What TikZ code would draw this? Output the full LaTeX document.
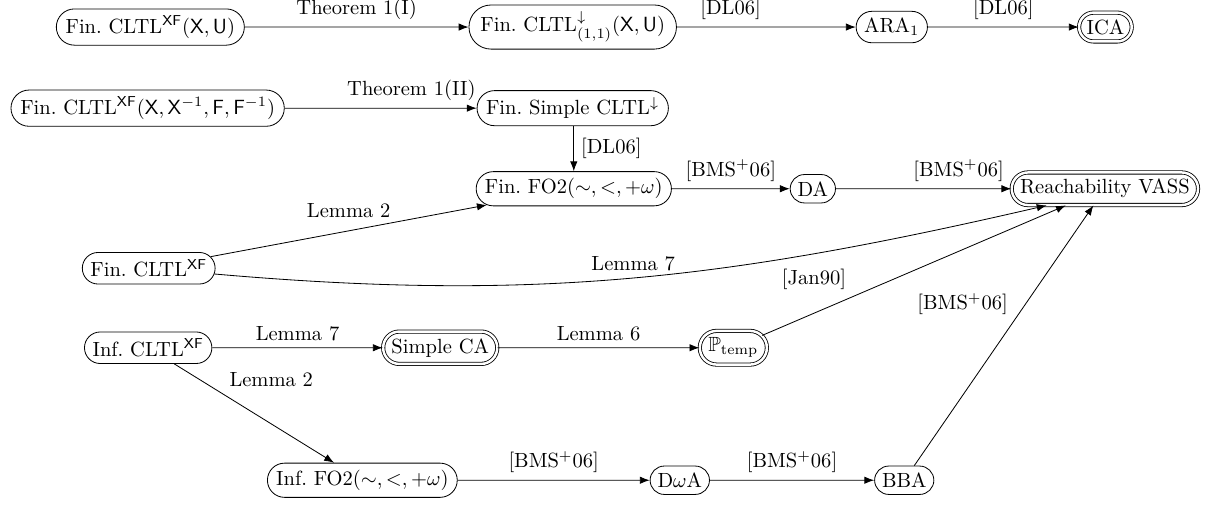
\documentclass[tikz,border=0pt]{standalone}
\usepackage{amsmath,amssymb}
\usetikzlibrary{arrows.meta, shapes.misc}

\begin{document}
\begin{tikzpicture}[x=0.926cm, y=0.926cm, >={Latex},
        st/.style={draw, rounded rectangle, inner xsep=2.6pt},
        acc/.style={st, double, double distance=1.2pt}]
            \useasboundingbox (0,0) rectangle (22.30,-9.32);
            \node[st] (fxu) at (2.78,-0.50) {Fin.\ CLTL\(^{\mathsf{XF}}(\mathsf{X},\mathsf{U})\)};
            \node[st] (fdown) at (10.59,-0.50) {Fin.\ CLTL\(^{\downarrow}_{(1,1)}(\mathsf{X},\mathsf{U})\)};
            \node[st] (ara) at (16.49,-0.50) {ARA\(_1\)};
            \node[acc] (ica) at (20.44,-0.50) {ICA};
            \node[st] (fxx) at (2.73,-2.00) {Fin.\ CLTL\(^{\mathsf{XF}}(\mathsf{X},\mathsf{X}^{-1},\mathsf{F},\mathsf{F}^{-1})\)};
            \node[st] (fsimple) at (10.59,-2.00) {Fin.\ Simple CLTL\(^{\downarrow}\)};
            \node[st] (ffo) at (10.61,-3.49) {Fin.\ FO2\((\sim,<,+\omega)\)};
            \node[st] (da) at (15.03,-3.49) {DA};
            \node[acc] (vass) at (20.43,-3.49) {Reachability VASS};
            \node[st] (fcltl) at (2.75,-4.96) {Fin.\ CLTL\(^{\mathsf{XF}}\)};
            \node[st] (icltl) at (2.74,-6.43) {Inf.\ CLTL\(^{\mathsf{XF}}\)};
            \node[acc] (sca) at (8.14,-6.43) {Simple CA};
            \node[acc] (ptemp) at (13.56,-6.43) {\(\mathbb{P}_{\mathrm{temp}}\)};
            \node[st] (ifo) at (6.70,-8.88) {Inf.\ FO2\((\sim,<,+\omega)\)};
            \node[st] (dwa) at (12.57,-8.88) {D\(\omega\)A};
            \node[st] (bba) at (16.72,-8.88) {BBA};
            \draw[->] (fxu)--node[above]{Theorem 1(I)}(fdown);
            \draw[->] (fdown)--node[above,pos=0.3]{[DL06]}(ara);
            \draw[->] (ara)--node[above]{[DL06]}(ica);
            \draw[->] (fxx)--node[above,pos=0.66]{Theorem 1(II)}(fsimple);
            \draw[->] (ffo.north |- fsimple.south)--node[right]{[DL06]}(ffo.north);
            \draw[->] (ffo)--node[above]{[BMS\(^+\)06]}(da);
            \draw[->] (da)--node[above,pos=0.7]{[BMS\(^+\)06]}(vass);
            \draw[->] (fcltl)--node[above=3pt,pos=0.5]{Lemma 2}(ffo);
            \draw[->] (fcltl) to[out=-5,in=193]node[above,pos=0.5]{Lemma 7}(vass.196);
            \draw[->] (icltl)--node[above]{Lemma 7}(sca);
            \draw[->] (sca)--node[above]{Lemma 6}(ptemp);
            \draw[->] (ptemp)--node[above left,pos=0.3]{[Jan90]}(vass);
            \draw[->] (icltl)--node[above right,pos=0.3]{Lemma 2}(ifo);
            \draw[->] (ifo)--node[above]{[BMS\(^+\)06]}(dwa);
            \draw[->] (dwa)--node[above]{[BMS\(^+\)06]}(bba);
            \draw[->] (bba)--node[left=5pt,pos=0.62]{[BMS\(^+\)06]}(vass);
\end{tikzpicture}
\end{document}
